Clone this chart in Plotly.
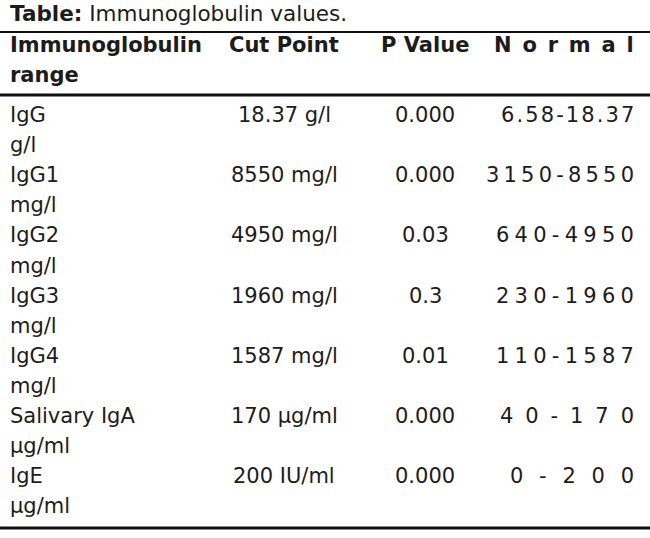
import plotly.graph_objects as go

# Table content
header = ["Immunoglobulin", "Cut Point", "P Value", "Normal"]
header_wrap = "range"
names = ["IgG", "IgG1", "IgG2", "IgG3", "IgG4", "Salivary IgA", "IgE"]
units = ["g/l", "mg/l", "mg/l", "mg/l", "mg/l", "µg/ml", "µg/ml"]
cut_points = ["18.37 g/l", "8550 mg/l", "4950 mg/l", "1960 mg/l",
              "1587 mg/l", "170 µg/ml", "200 IU/ml"]
p_values = ["0.000", "0.000", "0.03", "0.3", "0.01", "0.000", "0.000"]
normal_range = ["6.58-18.37", "3150-8550", "640-4950", "230-1960",
                "110-1587", "40-170", "0-200"]

# letter spacing used in the last column (justified text in the source)
range_gap = ["\u200a", "\u2009", "\u2005", "\u2005", "\u2005", " \u2005", "\u2002\u2005"]

W, H = 650, 538
FONT = "DejaVu Sans"
SIZE = 21
INK = "#1c1c1c"

col_x = [8, 284, 425, 636]
col_anchor = ["left", "center", "center", "right"]
header_y = 45
line_h = 30.1
first_row_y = 115

fig = go.Figure()
annotations = []


def add_text(x, y, text, anchor, size=SIZE):
    annotations.append(dict(
        x=x, y=y, xref="x", yref="y", text=text, showarrow=False,
        xanchor=anchor, yanchor="middle",
        font=dict(family=FONT, size=size, color=INK)
    ))


# title
add_text(8, 13, "<b>Table:</b> Immunoglobulin values.", "left", size=21.5)

# header
for i, h in enumerate(header):
    txt = h
    if i == 3:
        txt = " \u2006".join(h)
    add_text(col_x[i], header_y, "<b>" + txt + "</b>", col_anchor[i])
add_text(col_x[0], header_y + line_h, "<b>" + header_wrap + "</b>", "left")

# body rows, each entry takes two lines (name + unit)
for r in range(len(names)):
    y = first_row_y + 2 * r * line_h
    add_text(col_x[0], y, names[r], "left")
    add_text(col_x[0], y + line_h, units[r], "left")
    add_text(col_x[1], y, cut_points[r], "center")
    add_text(col_x[2], y, p_values[r], "center")
    add_text(col_x[3], y, range_gap[r].join(normal_range[r]), "right")

# rules
rules = [(32, 2.2), (95, 2.8), (528, 3)]
shapes = [dict(type="line", xref="x", yref="y", x0=0, x1=W, y0=y, y1=y,
               line=dict(color="#111111", width=w)) for y, w in rules]

fig.update_layout(
    width=W, height=H,
    margin=dict(l=0, r=0, t=0, b=0),
    paper_bgcolor="white", plot_bgcolor="white",
    xaxis=dict(range=[0, W], visible=False, fixedrange=True),
    yaxis=dict(range=[H, 0], visible=False, fixedrange=True),
    annotations=annotations, shapes=shapes,
    showlegend=False
)

# drop the default page margin so the table sits flush like the source image
fig.write_html("out.html", config={"displayModeBar": False},
               post_script="document.body.style.margin='0';")
